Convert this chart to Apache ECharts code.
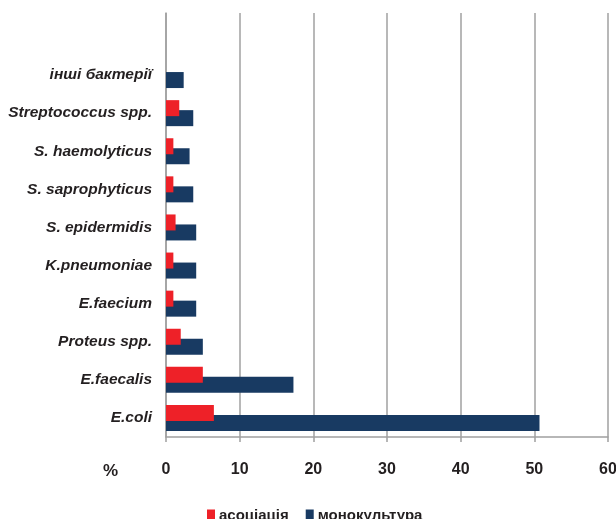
<!DOCTYPE html>
<html>
<head>
<meta charset="utf-8">
<script src="https://cdn.jsdelivr.net/npm/echarts@6/dist/echarts.min.js"></script>
<style>
html,body{margin:0;padding:0;background:#fff;}
#chart{width:616px;height:519px;}
</style>
</head>
<body>
<div id="chart"></div>
<script>
var categories = ['E.coli', 'E.faecalis', 'Proteus spp.', 'E.faecium', 'K.pneumoniae', 'S. epidermidis', 'S. saprophyticus', 'S. haemolyticus', 'Streptococcus spp.', 'інші бактерії'];
var association = [6.5, 5.0, 2.0, 1.0, 1.0, 1.3, 1.0, 1.0, 1.8, 0];
var monoculture = [50.7, 17.3, 5.0, 4.1, 4.1, 4.1, 3.7, 3.2, 3.7, 2.4];
var seriesNames = ['асоціація', 'монокультура'];
var xTicks = [0, 60, 10];

var FONT = "'Liberation Sans', Arial, sans-serif";
var chart = echarts.init(document.getElementById('chart'), null, {renderer: 'canvas'});
var option = {
  animation: false,
  backgroundColor: '#fff',
  textStyle: {fontFamily: FONT},
  legend: {
    data: seriesNames,
    left: 202,
    top: 503,
    itemWidth: 8,
    itemHeight: 12,
    itemGap: 17,
    icon: 'rect',
    textStyle: {fontFamily: FONT, fontWeight: 'bold', fontSize: 15, color: '#231f20', padding: [0, 0, 0, -1]}
  },
  graphic: [{
    type: 'text',
    left: 103,
    top: 463,
    style: {text: '%', font: 'bold 17px ' + FONT, fill: '#231f20'}
  }],
  grid: [
    {left: 166, right: 8, top: 13, bottom: 82, containLabel: false, outerBoundsMode: 'none'},
    {left: 166, right: 8, top: 56, bottom: 82, containLabel: false, outerBoundsMode: 'none'}
  ],
  xAxis: [
    {
      type: 'value', gridIndex: 0, min: xTicks[0], max: xTicks[1], interval: xTicks[2],
      axisLine: {show: true, lineStyle: {color: '#a0a0a0', width: 1.5}},
      axisTick: {show: true, length: 5, lineStyle: {color: '#a0a0a0', width: 1.5}},
      splitLine: {show: true, lineStyle: {color: '#a0a0a0', width: 1.5}},
      axisLabel: {margin: 25, fontFamily: FONT, fontWeight: 'bold', fontSize: 16, color: '#231f20'}
    },
    {
      type: 'value', gridIndex: 1, min: xTicks[0], max: xTicks[1], interval: xTicks[2],
      show: false, splitLine: {show: false}
    }
  ],
  yAxis: [
    {
      type: 'value', gridIndex: 0,
      axisLine: {show: true, lineStyle: {color: '#a0a0a0', width: 1.5}},
      axisTick: {show: false}, axisLabel: {show: false}, splitLine: {show: false}
    },
    {
      type: 'category', gridIndex: 1, data: categories,
      axisLine: {show: false}, axisTick: {show: false}, splitLine: {show: false},
      axisLabel: {margin: 14, fontFamily: FONT, fontWeight: 'bold', fontStyle: 'italic', fontSize: 15.5, color: '#231f20'}
    }
  ],
  series: [
    {
      name: seriesNames[0], type: 'bar', xAxisIndex: 1, yAxisIndex: 1,
      data: association, barWidth: 16, barGap: '-37.5%', z: 3,
      itemStyle: {color: '#ee2128'}
    },
    {
      name: seriesNames[1], type: 'bar', xAxisIndex: 1, yAxisIndex: 1,
      data: monoculture, barWidth: 16, barGap: '-37.5%', z: 2,
      itemStyle: {color: '#183a62'}
    }
  ]
};
chart.setOption(option);
</script>
</body>
</html>
